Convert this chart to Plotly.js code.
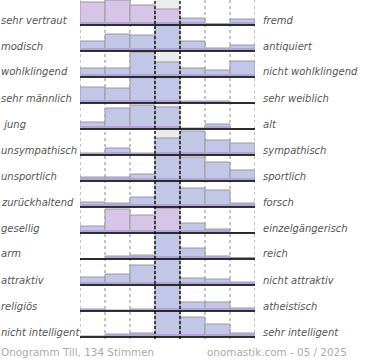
<!DOCTYPE html>
<html>
<head>
<meta charset="utf-8">
<script src="https://cdn.plot.ly/plotly-3.0.1.min.js"></script>
<style>html,body{margin:0;padding:0;background:#fff}#chart{width:370px;height:360px}</style>
</head>
<body>
<div id="chart"></div>
<script>
const leftLabels = ['sehr vertraut','modisch','wohlklingend','sehr männlich','\u00a0jung','unsympathisch','unsportlich','zurückhaltend','gesellig','arm','attraktiv','religiös','nicht intelligent'];
const rightLabels = ['fremd','antiquiert','nicht wohlklingend','sehr weiblich','alt','sympathisch','sportlich','forsch','einzelgängerisch','reich','nicht attraktiv','atheistisch','sehr intelligent'];
const columns = [1,2,3,4,5,6,7];
const row01 = [23,25,20,16,7,1.3,6];
const row02 = [10,17,16,26,10,3,6];
const row03 = [9,9,25,15,9,7,16];
const row04 = [16,15,26,26,2,2,0];
const row05 = [7,21,24,22,1,5,0];
const row06 = [2,7,2,17,24,15,12];
const row07 = [4,4,7,26,24,19,11];
const row08 = [5,4,10,26,19,17,4];
const row09 = [7,24,18,25,10,4,0.5];
const row10 = [0,3,4,26,11,3,1.5];
const row11 = [8,11,20,26,7,6,3];
const row12 = [2,1,2,26,9,9,3];
const row13 = [1,3,4,26,20,13,4];
const pinkRow01 = [1,1,1,1,0,0,0];
const pinkRow09 = [0,1,1,1,0,0,0];
const footerLeft = 'Onogramm Till, 134 Stimmen';
const footerRight = 'onomastik.com - 05 / 2025';

const rows = [row01,row02,row03,row04,row05,row06,row07,row08,row09,row10,row11,row12,row13];
const pinks = {0: pinkRow01, 8: pinkRow09};

const H = 360, ROW = 26, FIRST = 25, L = 80, PW = 175;
const baseOf = i => H - (FIRST + ROW * i);
const xs = columns.map(c => c - 0.5);

const traces = [];
rows.forEach((vals, i) => {
  const pk = pinks[i] || [0,0,0,0,0,0,0];
  const hs = vals.map(v => Math.min(v, ROW));
  traces.push({
    type: 'bar', x: xs, y: hs, base: hs.map(() => baseOf(i)), width: 1,
    marker: { color: pk.map(p => p ? '#d7c5e7' : '#c3c7e7'), line: { color: '#9a9a9a', width: 1 } },
    hoverinfo: 'skip', showlegend: false
  });
  traces.push({
    type: 'bar', x: xs, y: hs.map(h => Math.min(h, 3)), base: hs.map(() => baseOf(i)), width: 0.96,
    marker: { color: '#aea6d8', line: { width: 0 } },
    hoverinfo: 'skip', showlegend: false
  });
});

const shapes = [];
rows.forEach((vals, i) => {
  shapes.push({ type: 'rect', layer: 'below', xref: 'x', yref: 'y', x0: 3, x1: 4, y0: baseOf(i), y1: baseOf(i) + ROW,
    fillcolor: '#ececec', line: { width: 0 } });
});
const yBottom = H - 339, yTop = H;
[0,1,2,5,6,7].forEach(x => shapes.push({ type: 'line', layer: 'below', xref: 'x', yref: 'y', x0: x, x1: x, y0: yBottom, y1: yTop,
  line: { color: '#888', width: 1, dash: 'dot' } }));
[3,4].forEach(x => shapes.push({ type: 'line', layer: 'above', xref: 'x', yref: 'y', x0: x, x1: x, y0: yBottom, y1: yTop,
  line: { color: '#000', width: 1.3, dash: '3px,2px' } }));
rows.forEach((vals, i) => shapes.push({ type: 'line', layer: 'above', xref: 'x', yref: 'y', x0: 0, x1: 7, y0: baseOf(i), y1: baseOf(i),
  line: { color: '#000', width: 1.6 } }));

const annotations = [];
const labFont = { family: 'DejaVu Sans', size: 10, color: '#555', style: 'italic' };
rows.forEach((vals, i) => {
  const yp = (baseOf(i) + 5) / H;
  annotations.push({ xref: 'paper', yref: 'paper', x: (0 - L) / PW, y: yp, xanchor: 'left', yanchor: 'middle',
    text: leftLabels[i], showarrow: false, font: labFont, borderpad: 0 });
  annotations.push({ xref: 'paper', yref: 'paper', x: (262 - L) / PW, y: yp, xanchor: 'left', yanchor: 'middle',
    text: rightLabels[i], showarrow: false, font: labFont, borderpad: 0 });
});
const footFont = { family: 'DejaVu Sans', size: 10.4, color: '#aaa' };
annotations.push({ xref: 'paper', yref: 'paper', x: (0 - L) / PW, y: 8 / H, xanchor: 'left', yanchor: 'middle',
  text: footerLeft, showarrow: false, font: footFont, borderpad: 0 });
annotations.push({ xref: 'paper', yref: 'paper', x: (348 - L) / PW, y: 8 / H, xanchor: 'right', yanchor: 'middle',
  text: footerRight, showarrow: false, font: footFont, borderpad: 0 });

const layout = {
  width: 370, height: 360,
  margin: { l: L, r: 370 - L - PW, t: 0, b: 0 },
  paper_bgcolor: '#fff', plot_bgcolor: '#fff',
  barmode: 'overlay', bargap: 0,
  xaxis: { range: [0, 7], showgrid: false, zeroline: false, showticklabels: false, ticks: '', fixedrange: true },
  yaxis: { range: [0, H], showgrid: false, zeroline: false, showticklabels: false, ticks: '', fixedrange: true },
  shapes, annotations, showlegend: false
};
Plotly.newPlot('chart', traces, layout, { displayModeBar: false, staticPlot: true });
</script>
</body>
</html>
